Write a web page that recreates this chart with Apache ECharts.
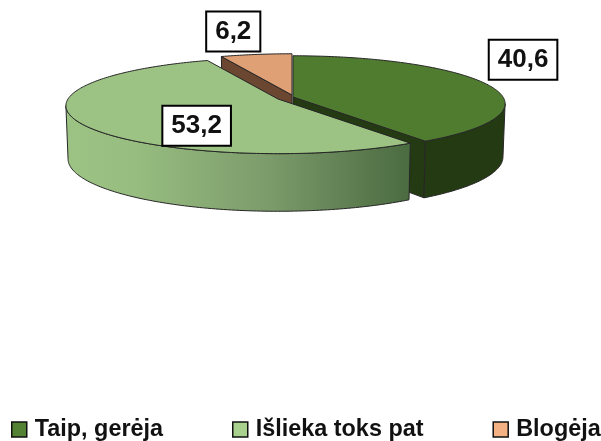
<!DOCTYPE html>
<html><head><meta charset="utf-8">
<style>html,body{margin:0;padding:0;background:#fff}#c{width:601px;height:441px}</style>
<script src="https://cdn.jsdelivr.net/npm/echarts@6/dist/echarts.min.js"></script>
</head><body><div id="c"></div>
<script>
const categories = ['Taip, gerėja', 'Išlieka toks pat', 'Blogėja'];
const values = [40.6, 53.2, 6.2];
const valueLabels = ['40,6', '53,2', '6,2'];

// styling and layout (not data)
const topColors = ['#507c30', '#9cc384', '#e0a076'];
const legendColors = ['#548235', '#a9d18e', '#f4b183'];
const wallColors = ['#233a12', null, '#6b4630'];
const centers = [[293, 97], [278, 99], [292, 95]];
const labelShift = [[37, -24], [117, 3], [-23, -23]];
const wallLimit = [98, 262, null];
const RX = 210, RY = 47, PERSP = 0.14, DEPTH = 52.5, BOTTOM_SHRINK = 0.99;
const EDGE = '#262626';

const total = values.reduce((a, b) => a + b, 0);
const angles = [];
let running = 0;
values.forEach(v => { angles.push([running / total * 360, (running + v) / total * 360]); running += v; });

function project(i, deg, r, low) {
  const t = deg * Math.PI / 180, X = Math.sin(t) * r, Y = Math.cos(t) * r;
  const s = 1 / (1 + PERSP * Y), c = centers[i];
  const k = low ? BOTTOM_SHRINK : 1;
  return [c[0] + RX * k * X * s, c[1] - RY * Y * s + (low ? DEPTH * (1 + 0.6 * (s - 1)) : 0)];
}
function arc(i, a, b, low) {
  const n = Math.max(2, Math.ceil(Math.abs(b - a)));
  const pts = [];
  for (let j = 0; j <= n; j++) pts.push(project(i, a + (b - a) * j / n, 1, low));
  return pts;
}
function poly(points, fill, z2) {
  return { type: 'polygon', z2: z2, shape: { points: points },
    style: { fill: fill, stroke: EDGE, lineWidth: 1, lineJoin: 'round' } };
}
function renderSlice(params, api) {
  const i = params.seriesIndex, a0 = angles[i][0], a1 = angles[i][1];
  const kids = [];
  // cut faces and outer walls
  if (i === 0) {
    kids.push(poly([project(i, a1, 0), project(i, a1, 1), project(i, a1, 1, true), project(i, a1, 0, true)], wallColors[0], 1));
    kids.push(poly(arc(i, wallLimit[0], a1).concat(arc(i, a1, wallLimit[0], true)), wallColors[0], 1));
  } else if (i === 2) {
    kids.push(poly([project(i, a0, 0), project(i, a0, 1), project(i, a0, 1, true), project(i, a0, 0, true)], wallColors[2], 1));
  } else {
    const grad = new echarts.graphic.LinearGradient(0, 0, 1, 0, [
      { offset: 0, color: '#9cc384' }, { offset: 0.2, color: '#97bd80' },
      { offset: 0.6, color: '#7b9a6a' }, { offset: 1, color: '#4a6a40' }
    ]);
    kids.push(poly(arc(i, a0, wallLimit[1]).concat(arc(i, wallLimit[1], a0, true)), grad, 1));
  }
  // top face
  kids.push(poly([project(i, a0, 0)].concat(arc(i, a0, a1)), topColors[i], 2));
  // value label
  const mid = project(i, (a0 + a1) / 2, 1);
  kids.push({ type: 'text', z2: 5, x: mid[0] + labelShift[i][0], y: mid[1] + labelShift[i][1],
    style: { text: valueLabels[i], font: 'bold 26px "Liberation Sans", Arial, sans-serif', fill: '#111',
      align: 'center', verticalAlign: 'middle', backgroundColor: '#fff', borderColor: '#000',
      borderWidth: 2, padding: [6, 8, 6, 8] } });
  return { type: 'group', children: kids };
}

const chart = echarts.init(document.getElementById('c'), null, { renderer: 'canvas' });
chart.setOption({
  animation: false,
  backgroundColor: '#fff',
  legend: {
    left: 6, top: 413, width: 700, orient: 'horizontal', itemWidth: 15, itemHeight: 15, itemGap: 69, icon: 'rect',
    padding: 5, selectedMode: false,
    data: categories.map((n, i) => ({ name: n, icon: 'rect',
      itemStyle: { color: legendColors[i], borderColor: '#111', borderWidth: 1.5 } })),
    textStyle: { fontFamily: '"Liberation Sans", Arial, sans-serif', fontWeight: 'bold', fontSize: 23.4, color: '#111', padding: [0, 0, 0, 3] }
  },
  series: categories.map((n, i) => ({
    type: 'custom', name: n, coordinateSystem: 'none', silent: true,
    z: [2, 3, 1][i], renderItem: renderSlice, data: [values[i]],
    itemStyle: { color: legendColors[i] }
  }))
});
</script></body></html>
